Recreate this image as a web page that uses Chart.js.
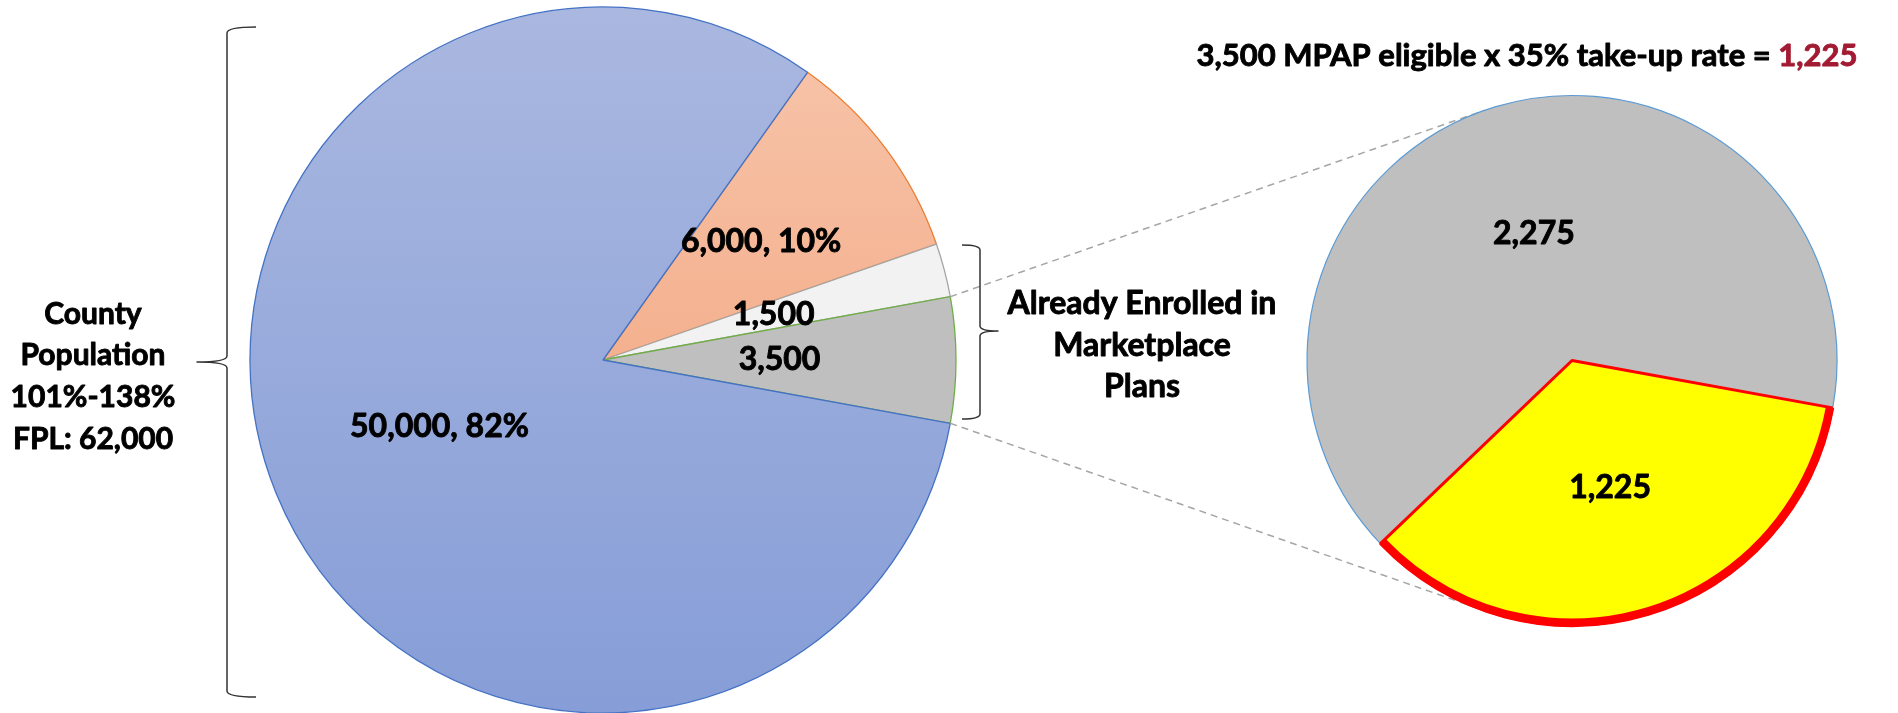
<!DOCTYPE html>
<html>
<head>
<meta charset="utf-8">
<script src="https://cdn.jsdelivr.net/npm/chart.js@4.4.1/dist/chart.umd.min.js"></script>
<style>
  html, body { margin: 0; padding: 0; background: #ffffff; width: 1898px; height: 713px; overflow: hidden; }
  .layer { position: absolute; left: 0; top: 0; width: 1898px; height: 713px; }
</style>
</head>
<body>
<div class="layer"><canvas id="mainPie" width="1898" height="713"></canvas></div>
<div class="layer"><canvas id="subPie" width="1898" height="713"></canvas></div>
<script>
// ---------- DATA ----------
const mainCategories = ['Other coverage', 'Marketplace, not MPAP eligible', 'Marketplace, MPAP eligible', 'Remaining population'];
const mainValues = [6000, 1500, 3500, 50000];
const mainShowPercent = [true, false, false, true];

const subCategories = ['MPAP eligible, not taking up', 'MPAP take-up'];
const subValues = [2275, 1225];

const sideLabelLines = ['County', 'Population', '101%-138%', 'FPL: 62,000'];
const braceLabelLines = ['Already Enrolled in', 'Marketplace', 'Plans'];
const titleText = '3,500 MPAP eligible x 35% take-up rate = ';
const titleResult = '1,225';

// ---------- STYLE ----------
const FONT = 'Lato, "Open Sans", "DejaVu Sans", sans-serif';
const WEIGHT = 'bold';
const mainBorders = ['#ED7D31', '#A5A5A5', '#70AD47', '#4472C4'];
const mainGradients = [
  ['#F7C6AC', '#F19B72'],
  ['#F2F2F2', '#F2F2F2'],
  ['#BFBFBF', '#BFBFBF'],
  ['#AAB8E0', '#869DD7']
];
const mainLabelRadius = [0.56, 0.5, 0.5, 0.5];
const subColors = ['#BFBFBF', '#FFFF00'];
const subBorders = ['#5B9BD5', '#FF0000'];

const fmt = v => v.toLocaleString('en-US');
const mainTotal = mainValues.reduce((a, b) => a + b, 0);
// rotate so the MPAP-eligible slice (index 2) is centred at 3 o'clock
const mainRotation = 90 - (mainValues[0] + mainValues[1] + mainValues[2] / 2) / mainTotal * 360;

function heavyText(ctx, txt, x, y, color) {
  ctx.fillStyle = color;
  ctx.strokeStyle = color;
  ctx.lineWidth = 0.9;
  ctx.lineJoin = 'round';
  ctx.setLineDash([]);
  ctx.fillText(txt, x, y);
  ctx.strokeText(txt, x, y);
}

function drawBrace(ctx, xTip, xSpine, xMid, yTop, yMid, yBot, r) {
  ctx.strokeStyle = '#333';
  ctx.lineWidth = 1.5;
  ctx.beginPath();
  ctx.moveTo(xTip, yTop);
  ctx.quadraticCurveTo(xSpine, yTop, xSpine, yTop + r);
  ctx.lineTo(xSpine, yMid - r);
  ctx.quadraticCurveTo(xSpine, yMid, xMid, yMid);
  ctx.quadraticCurveTo(xSpine, yMid, xSpine, yMid + r);
  ctx.lineTo(xSpine, yBot - r);
  ctx.quadraticCurveTo(xSpine, yBot, xTip, yBot);
  ctx.stroke();
}

function drawLines(ctx, lines, cx, cy0, step, size) {
  ctx.font = WEIGHT + ' ' + size + 'px ' + FONT;
  ctx.textAlign = 'center';
  ctx.textBaseline = 'middle';
  lines.forEach((t, i) => heavyText(ctx, t, cx, cy0 + i * step, '#000'));
}

const mainLabelsPlugin = {
  id: 'mainLabels',
  afterDatasetsDraw(chart) {
    const ctx = chart.ctx;
    const meta = chart.getDatasetMeta(0);
    ctx.save();
    ctx.font = WEIGHT + ' 32px ' + FONT;
    ctx.textAlign = 'center';
    ctx.textBaseline = 'middle';
    meta.data.forEach((arc, i) => {
      const p = arc.getProps(['x', 'y', 'startAngle', 'endAngle', 'outerRadius'], true);
      const mid = (p.startAngle + p.endAngle) / 2;
      const rr = p.outerRadius * mainLabelRadius[i];
      let txt = fmt(mainValues[i]);
      if (mainShowPercent[i]) txt += ', ' + Math.round(mainValues[i] / mainTotal * 100) + '%';
      heavyText(ctx, txt, p.x + Math.cos(mid) * rr, p.y + Math.sin(mid) * rr, '#000');
    });
    // left brace + text
    drawBrace(ctx, 256, 227, 197, 27, 362, 697, 6);
    drawLines(ctx, sideLabelLines, 93, 314, 41.7, 30);
    ctx.restore();
  }
};

const mainChart = new Chart(document.getElementById('mainPie'), {
  type: 'pie',
  data: {
    labels: mainCategories,
    datasets: [{
      data: mainValues,
      backgroundColor: (c) => {
        const area = c.chart.chartArea;
        const g = mainGradients[c.dataIndex] || mainGradients[0];
        if (!area) return g[0];
        const grad = c.chart.ctx.createLinearGradient(0, area.top, 0, area.bottom);
        grad.addColorStop(0, g[0]);
        grad.addColorStop(1, g[1]);
        return grad;
      },
      borderColor: mainBorders,
      borderWidth: 1.3,
      radius: 353
    }]
  },
  options: {
    responsive: false,
    animation: false,
    rotation: mainRotation,
    layout: { padding: { left: 250, right: 942, top: 7, bottom: 0 } },
    plugins: { legend: { display: false }, tooltip: { enabled: false } }
  },
  plugins: [mainLabelsPlugin]
});

const subPlugin = {
  id: 'subExtras',
  beforeDatasetsDraw(chart) {
    const ctx = chart.ctx;
    const subArc = chart.getDatasetMeta(0).data[0].getProps(['x', 'y', 'outerRadius'], true);
    const src = mainChart.getDatasetMeta(0).data[2].getProps(['x', 'y', 'startAngle', 'endAngle', 'outerRadius'], true);
    const pts = [src.startAngle, src.endAngle].map(a => ({
      x: src.x + Math.cos(a) * src.outerRadius,
      y: src.y + Math.sin(a) * src.outerRadius
    }));
    ctx.save();
    ctx.strokeStyle = '#A6A6A6';
    ctx.lineWidth = 1.5;
    ctx.setLineDash([7, 5]);
    pts.forEach((P, i) => {
      const dx = P.x - subArc.x, dy = P.y - subArc.y;
      const d = Math.hypot(dx, dy);
      const base = Math.atan2(dy, dx);
      const alpha = Math.acos(subArc.outerRadius / d);
      const ang = i === 0 ? base + alpha : base - alpha;
      ctx.beginPath();
      ctx.moveTo(P.x, P.y);
      ctx.lineTo(subArc.x + Math.cos(ang) * subArc.outerRadius, subArc.y + Math.sin(ang) * subArc.outerRadius);
      ctx.stroke();
    });
    ctx.restore();
  },
  afterDatasetsDraw(chart) {
    const ctx = chart.ctx;
    const meta = chart.getDatasetMeta(0);
    ctx.save();
    // thick outer rim on the take-up slice
    const y = meta.data[1].getProps(['x', 'y', 'startAngle', 'endAngle', 'outerRadius'], true);
    ctx.strokeStyle = '#FF0000';
    ctx.lineWidth = 8;
    ctx.beginPath();
    ctx.arc(y.x, y.y, y.outerRadius - 3, y.startAngle, y.endAngle);
    ctx.stroke();
    // labels
    ctx.font = WEIGHT + ' 32px ' + FONT;
    ctx.textAlign = 'center';
    ctx.textBaseline = 'middle';
    meta.data.forEach((arc, i) => {
      const p = arc.getProps(['x', 'y', 'startAngle', 'endAngle', 'outerRadius'], true);
      const mid = (p.startAngle + p.endAngle) / 2;
      const rr = p.outerRadius * 0.5;
      heavyText(ctx, fmt(subValues[i]), p.x + Math.cos(mid) * rr, p.y + Math.sin(mid) * rr, '#000');
    });
    // title
    ctx.font = WEIGHT + ' 31px ' + FONT;
    ctx.textAlign = 'left';
    const w1 = ctx.measureText(titleText).width;
    const w2 = ctx.measureText(titleResult).width;
    const x0 = 1527 - (w1 + w2) / 2;
    heavyText(ctx, titleText, x0, 56, '#000');
    heavyText(ctx, titleResult, x0 + w1, 56, '#A21B33');
    // right brace + text
    drawBrace(ctx, 962, 980, 998, 245, 331, 419, 5);
    drawLines(ctx, braceLabelLines, 1142, 304, 41.5, 32);
    ctx.restore();
  }
};

new Chart(document.getElementById('subPie'), {
  type: 'pie',
  data: {
    labels: subCategories,
    datasets: [{
      data: subValues,
      backgroundColor: subColors,
      borderColor: subBorders,
      borderWidth: [1.2, 3],
      radius: 265
    }]
  },
  options: {
    responsive: false,
    animation: false,
    rotation: 226.3,
    layout: { padding: { left: 1307, right: 61, top: 97, bottom: 89 } },
    plugins: { legend: { display: false }, tooltip: { enabled: false } }
  },
  plugins: [subPlugin]
});
</script>
</body>
</html>
